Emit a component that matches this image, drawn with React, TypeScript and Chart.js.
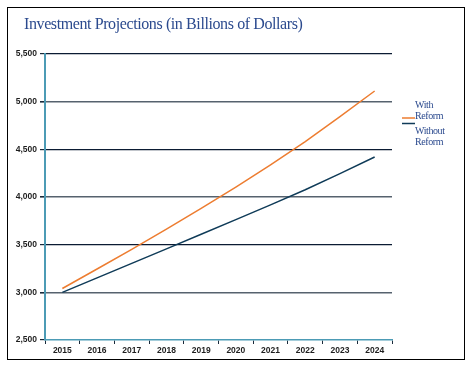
import React, { useEffect, useRef } from "react";
import { Chart, registerables } from "chart.js";

Chart.register(...registerables);

const titleText = "Investment Projections (in Billions of Dollars)";
const years = ["2015", "2016", "2017", "2018", "2019", "2020", "2021", "2022", "2023", "2024"];
const withReform = [3040, 3245, 3450, 3662, 3880, 4104, 4338, 4580, 4842, 5112];
const withoutReform = [3000, 3152, 3304, 3456, 3609, 3763, 3917, 4076, 4245, 4420];
const seriesLabels = ["With\nReform", "Without\nReform"];
const seriesColors = ["#ED7D31", "#0F3B58"];
const yMin = 2500;
const yMax = 5500;
const yStep = 500;

const gridDark = "#0B1B33";
const gridGrey = "#56626E";
const axisTeal = "#4C9BB5";
const textBlue = "#2B4A8E";

const titlePlugin = {
  id: "customTitle",
  afterDraw(chart: any) {
    const ctx = chart.ctx;
    ctx.save();
    ctx.font = "16px 'Liberation Serif', serif";
    (ctx as any).letterSpacing = "-0.4px";
    ctx.fillStyle = textBlue;
    ctx.textBaseline = "alphabetic";
    ctx.textAlign = "left";
    ctx.fillText(titleText, 16, 21);
    ctx.restore();
  },
};

const legendPlugin = {
  id: "customLegend",
  afterDraw(chart: any) {
    const ctx = chart.ctx;
    const right = chart.chartArea.right;
    const top = chart.chartArea.top;
    ctx.save();
    ctx.font = "10px 'Liberation Serif', serif";
    (ctx as any).letterSpacing = "-0.4px";
    ctx.fillStyle = textBlue;
    ctx.textBaseline = "alphabetic";
    const items = [
      { base: 54, line: 64 },
      { base: 79.5, line: 69.5 },
    ];
    chart.data.datasets.forEach((ds: any, i: number) => {
      const lines = String(ds.label).split("\n");
      const it = items[i];
      lines.forEach((t: string, j: number) => {
        ctx.fillText(t, right + 23, top + it.base + j * 11);
      });
      ctx.strokeStyle = ds.borderColor;
      ctx.lineWidth = 1.5;
      ctx.beginPath();
      ctx.moveTo(right + 10, top + it.line);
      ctx.lineTo(right + 23, top + it.line);
      ctx.stroke();
    });
    ctx.restore();
  },
};

export default function App() {
  const ref = useRef<HTMLCanvasElement | null>(null);

  useEffect(() => {
    if (!ref.current) return;
    const chart = new Chart(ref.current, {
      type: "line",
      data: {
        labels: years,
        datasets: [
          {
            label: seriesLabels[0],
            data: withReform,
            borderColor: seriesColors[0],
            backgroundColor: seriesColors[0],
            borderWidth: 1.5,
            pointRadius: 0,
            tension: 0,
          },
          {
            label: seriesLabels[1],
            data: withoutReform,
            borderColor: seriesColors[1],
            backgroundColor: seriesColors[1],
            borderWidth: 1.5,
            pointRadius: 0,
            tension: 0,
          },
        ],
      },
      options: {
        animation: false,
        responsive: false,
        maintainAspectRatio: false,
        layout: { padding: { top: 46, right: 72, left: 0, bottom: 0 } },
        plugins: {
          legend: { display: false },
          title: { display: false },
          tooltip: { enabled: false },
        },
        scales: {
          x: {
            type: "category",
            offset: true,
            grid: {
              drawOnChartArea: false,
              drawTicks: true,
              tickLength: 4,
              tickColor: "#1A2A3A",
              offset: true,
            },
            border: { color: axisTeal, width: 1.5 },
            ticks: {
              color: "#1E1E1E",
              font: { family: "'Liberation Sans', Arial, sans-serif", size: 8.5, weight: "bold" },
              padding: 2,
              maxRotation: 0,
              autoSkip: false,
            },
            afterFit(scale: any) {
              scale.height = 19;
            },
          },
          y: {
            min: yMin,
            max: yMax,
            grid: {
              color: (c: any) => {
                const v = c.tick ? c.tick.value : 0;
                if (v === yMin) return "rgba(0,0,0,0)";
                return ((v - yMin) / yStep) % 2 === 0 ? gridDark : gridGrey;
              },
              lineWidth: (c: any) => {
                const v = c.tick ? c.tick.value : 0;
                return ((v - yMin) / yStep) % 2 === 0 ? 1.2 : 1.6;
              },
              tickColor: "#1A2A3A",
              tickLength: 5,
              drawTicks: true,
            },
            border: { color: axisTeal, width: 2 },
            ticks: {
              stepSize: yStep,
              color: "#1E1E1E",
              font: { family: "'Liberation Sans', Arial, sans-serif", size: 8.5, weight: "bold" },
              padding: 3,
              callback: (v: any) => Number(v).toLocaleString("en-US"),
            },
            afterFit(scale: any) {
              scale.width = 37;
            },
          },
        },
      },
      plugins: [titlePlugin, legendPlugin],
    });
    return () => chart.destroy();
  }, []);

  return (
    <div
      style={{
        position: "absolute",
        left: 7,
        top: 7,
        width: 456,
        height: 351,
        border: "1px solid #000",
        background: "#fff",
      }}
    >
      <canvas ref={ref} width={456} height={351} style={{ display: "block", width: 456, height: 351 }} />
    </div>
  );
}
